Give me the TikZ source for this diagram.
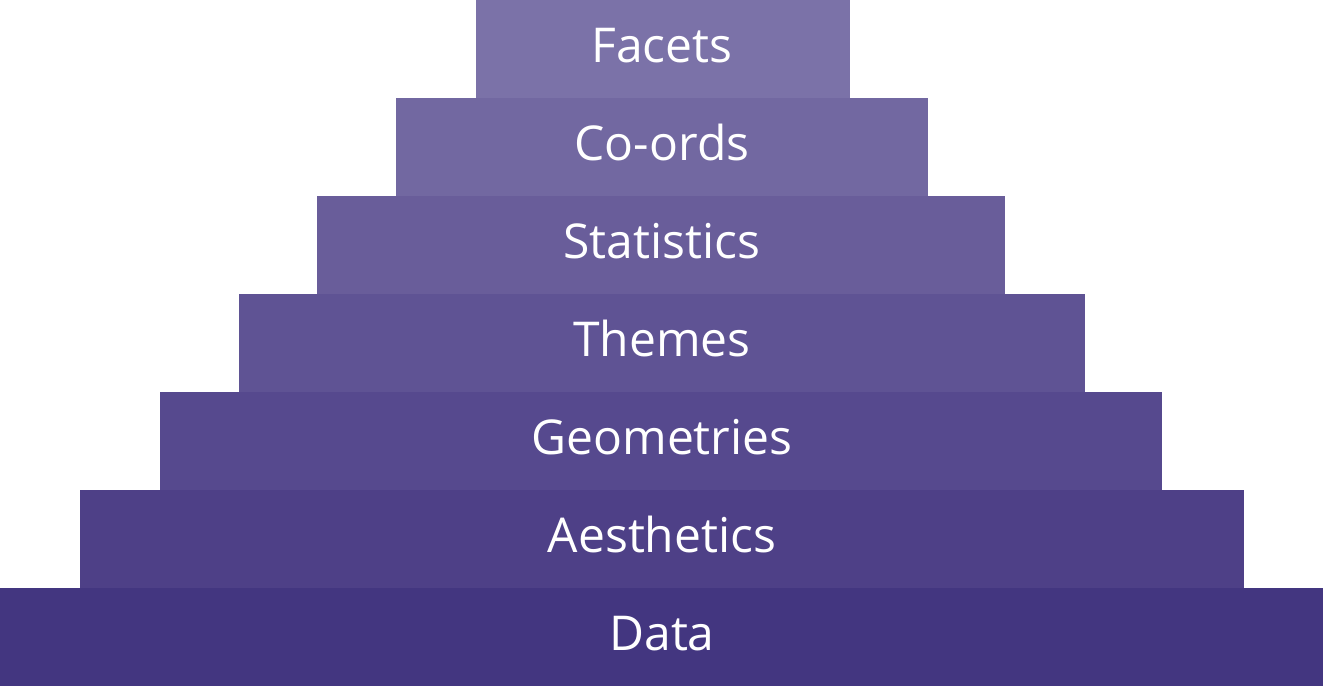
\documentclass[tikz,border=0pt]{standalone}
\usepackage{fontspec}
\setmainfont{Open Sans}
\begin{document}
\begin{tikzpicture}[x=1pt,y=-1pt,
  layer/.style={fill=#1,draw=none},
  lbl/.style={anchor=base,text=white,font=\fontsize{48}{52}\selectfont,inner sep=0pt}]
\definecolor{cA}{HTML}{7B72A8}
\definecolor{cB}{HTML}{7268A1}
\definecolor{cC}{HTML}{695D9A}
\definecolor{cD}{HTML}{5F5394}
\definecolor{cE}{HTML}{56498E}
\definecolor{cF}{HTML}{4E4087}
\definecolor{cG}{HTML}{433680}
\useasboundingbox (0,0) rectangle (1323,686);
\fill[layer=cA] (476,0) rectangle (850,98);
\fill[layer=cB] (396,98) rectangle (928,196);
\fill[layer=cC] (317,196) rectangle (1005,294);
\fill[layer=cD] (239,294) rectangle (1085,392);
\fill[layer=cE] (160,392) rectangle (1162,490);
\fill[layer=cF] (80,490) rectangle (1244,588);
\fill[layer=cG] (0,588) rectangle (1323,686);
\node[lbl] (facets) at (662,62) {Facets};
\node[lbl] (coords) at (662,160) {Co-ords};
\node[lbl] (stats) at (662,258) {Statistics};
\node[lbl] (themes) at (662,356) {Themes};
\node[lbl] (geoms) at (662,454) {Geometries};
\node[lbl] (aes) at (662,552) {Aesthetics};
\node[lbl] (data) at (662,650) {Data};
\end{tikzpicture}
\end{document}
